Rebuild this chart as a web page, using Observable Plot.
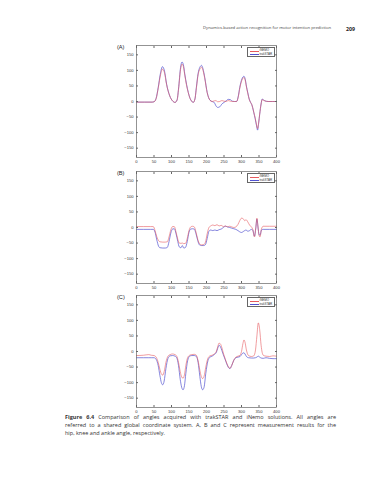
<!DOCTYPE html>
<html><head><meta charset="utf-8">
<script src="https://cdn.jsdelivr.net/npm/d3@7"></script>
<script src="https://cdn.jsdelivr.net/npm/@observablehq/plot@0.6"></script>
<style>
body{margin:0;background:#fff;}
#page{position:relative;width:389px;height:480px;overflow:hidden;background:#fff;font-family:"Open Sans",sans-serif;color:#231f20;}
.abs{position:absolute;}
.hdr{font-size:4.2px;white-space:nowrap;color:#444;}
.pg{font-size:5.2px;font-weight:bold;color:#222;}
.plab{font-size:5.6px;font-family:"Liberation Sans",Arial,sans-serif;color:#222;}
.leg{background:#fff;border:0.6px solid #666;width:28px;height:10px;box-sizing:border-box;font-family:"Liberation Sans",Arial,sans-serif;font-size:3px;color:#333;}
.sw{position:absolute;left:1.5px;width:9px;height:0;}
.lt{position:absolute;left:11.5px;white-space:nowrap;line-height:3px;}
.cap{left:65px;width:271px;font-size:5.5px;line-height:8.2px;color:#333;}
.cl{white-space:nowrap;text-align:justify;text-align-last:justify;height:8.2px;}
.cl3{text-align:left;text-align-last:left;}
</style></head><body><div id="page"></div><script>
// shared tick values
const xTicks = [0, 50, 100, 150, 200, 250, 300, 350, 400];
const yTicks = [-150, -100, -50, 0, 50, 100, 150];
const seriesNames = ["iNEMO", "trakSTAR"];

// (A) hip angle
const hipX = [0,45,50,56,62,68,74,80,86,95,103,110,116,120,126,130,134,138,143,148,153,157,162,167,171,176,181,186,190,195,202,210,216,222,227,232,238,244,250,256,262,268,274,280,286,291,295,301,307,311,314,318,322,326,329,332,335,339,343,346,349,352,356,359,363,367,376,400];
const hipINEMO = [-2,-2,-1,9,42,82,104,92,54,18,2,-3,5,38,104,120,112,84,52,28,10,2,-3,8,42,86,104,110,100,74,28,4,0,2,3,-1,0,3,1,0,3,1,0,0,0,16,42,68,77,66,47,26,7,-3,-9,-20,-34,-52,-75,-87,-68,-40,-8,6,4,2,0,0];
const hipTrakSTAR = [-2,-2,-1,10,45,88,112,98,56,18,2,-3,5,40,110,127,118,88,55,29,10,2,-3,8,45,90,110,116,105,77,29,4,0,-3,-14,-19,-17,-8,-3,2,7,6,1,0,0,18,45,72,81,70,50,28,8,-3,-9,-20,-35,-55,-78,-92,-70,-41,-8,8,5,2,0,0];

// (B) knee angle
const kneeX = [0,20,40,48,53,58,63,67,75,82,88,93,98,103,108,113,118,122,127,131,135,140,145,150,155,160,165,170,175,180,186,192,197,202,207,212,218,224,230,236,242,248,254,260,266,272,278,284,290,295,300,305,309,313,318,323,328,332,337,341,344,347,350,353,357,362,380,400];
const kneeINEMO = [3,3,3,3,-10,-30,-42,-46,-47,-47,-46,-30,-8,3,3,-15,-38,-50,-51,-50,-52,-51,-35,-10,2,4,2,-15,-38,-52,-56,-55,-47,-20,0,5,8,6,9,5,7,3,5,2,4,2,0,2,10,22,30,28,22,25,18,8,2,-5,-30,0,30,5,-25,-30,-5,4,4,4];
const kneeTrakSTAR = [-6,-6,-6,-6,-15,-40,-60,-65,-66,-66,-64,-45,-18,-5,-4,-20,-45,-62,-65,-58,-66,-64,-45,-15,-5,-4,-5,-20,-42,-56,-58,-58,-55,-35,-12,-8,-10,-8,-10,-7,-5,0,4,2,0,-2,-4,-6,-10,-14,-16,-13,-10,-8,-12,-10,-6,-8,-28,0,27,2,-22,-25,-8,-6,-6,-6];

// (C) ankle angle
const ankleX = [0,20,35,42,50,56,62,67,71,75,79,84,90,96,103,110,115,120,125,129,133,137,141,146,152,158,165,171,176,181,185,189,193,198,204,210,216,222,228,232,236,240,244,248,253,258,263,267,272,278,284,290,296,300,304,307,310,314,320,328,335,340,344,348,352,356,362,370,380,390,400];
const ankleINEMO = [-13,-12,-10,-12,-13,-18,-35,-58,-72,-76,-65,-35,-15,-10,-8,-10,-15,-35,-65,-82,-86,-75,-45,-20,-12,-10,-9,-12,-30,-60,-80,-87,-80,-50,-22,-14,-12,-8,0,15,27,24,12,-5,-22,-38,-50,-54,-45,-28,-18,-15,-12,0,25,37,30,5,-13,-16,-14,5,50,92,70,20,-12,-15,-16,-14,-15];
const ankleTrakSTAR = [-20,-20,-20,-20,-20,-25,-45,-78,-100,-107,-95,-55,-22,-14,-13,-15,-20,-45,-90,-115,-123,-110,-70,-30,-15,-13,-13,-16,-35,-80,-112,-123,-115,-70,-30,-18,-15,-10,-3,10,20,15,3,-10,-25,-40,-52,-55,-45,-28,-20,-18,-16,-10,-5,-4,-8,-16,-20,-21,-21,-20,-18,-15,-18,-21,-22,-20,-22,-23,-23];

const RED = "#e65a5e", BLUE = "#5252d0";
const FONT = "'Liberation Sans', Arial, sans-serif";
const page = document.getElementById("page");

function el(cls, style, html) {
  const d = document.createElement("div");
  d.className = cls; d.style.cssText = style; d.innerHTML = html;
  page.appendChild(d); return d;
}

function panel(X, red, blue, frameTop, label) {
  const rows = X.map((x, i) => ({x, red: red[i], blue: blue[i]}));
  const svg = Plot.plot({
    width: 389, height: 140,
    marginLeft: 136, marginRight: 113, marginTop: 12, marginBottom: 16,
    x: {domain: [0, 400]}, y: {domain: [-180, 180]},
    style: {fontSize: "4.1px", fontFamily: FONT, background: "transparent", color: "#333"},
    marks: [
      Plot.line(rows, {x: "x", y: "blue", stroke: BLUE, strokeWidth: 0.7, curve: "monotone-x"}),
      Plot.line(rows, {x: "x", y: "red", stroke: RED, strokeWidth: 0.7, strokeOpacity: 0.85, curve: "monotone-x"}),
      Plot.axisX(xTicks, {anchor: "bottom", tickSize: -2, tickPadding: 4.5, label: null, stroke: "#666"}),
      Plot.axisX(xTicks, {anchor: "top", tickSize: -2, tickFormat: () => "", label: null, stroke: "#666"}),
      Plot.axisY(yTicks, {anchor: "left", tickSize: -2, tickPadding: 5, label: null, stroke: "#666"}),
      Plot.axisY(yTicks, {anchor: "right", tickSize: -2, tickFormat: () => "", label: null, stroke: "#666"}),
      Plot.frame({stroke: "#666", strokeWidth: 0.7})
    ]
  });
  svg.style.position = "absolute";
  svg.style.left = "0px";
  svg.style.top = (frameTop - 12) + "px";
  page.appendChild(svg);
  el("abs plab", `left:117px;top:${frameTop - 1}px;`, label);
  el("abs leg", `left:247px;top:${frameTop + 2}px;`,
    `<span class="sw" style="top:2.6px;border-top:0.6px solid ${RED}"></span><span class="lt" style="top:1.2px">${seriesNames[0]}</span>` +
    `<span class="sw" style="top:6.4px;border-top:0.6px solid ${BLUE}"></span><span class="lt" style="top:5px">${seriesNames[1]}</span>`);
}

el("abs hdr", "left:203px;top:25px;", "Dynamics-based action recognition for motor intention prediction");
el("abs pg", "left:346px;top:24.5px;", "209");

panel(hipX, hipINEMO, hipTrakSTAR, 45, "(A)");
panel(kneeX, kneeINEMO, kneeTrakSTAR, 171, "(B)");
panel(ankleX, ankleINEMO, ankleTrakSTAR, 295, "(C)");

el("abs cap", "top:413px;",
  '<div class="cl"><b>Figure 6.4</b> Comparison of angles acquired with trakSTAR and iNemo solutions. All angles are</div>' +
  '<div class="cl">referred to a shared global coordinate system. A, B and C represent measurement results for the</div>' +
  '<div class="cl cl3">hip, knee and ankle angle, respectively.</div>');
</script></body></html>
